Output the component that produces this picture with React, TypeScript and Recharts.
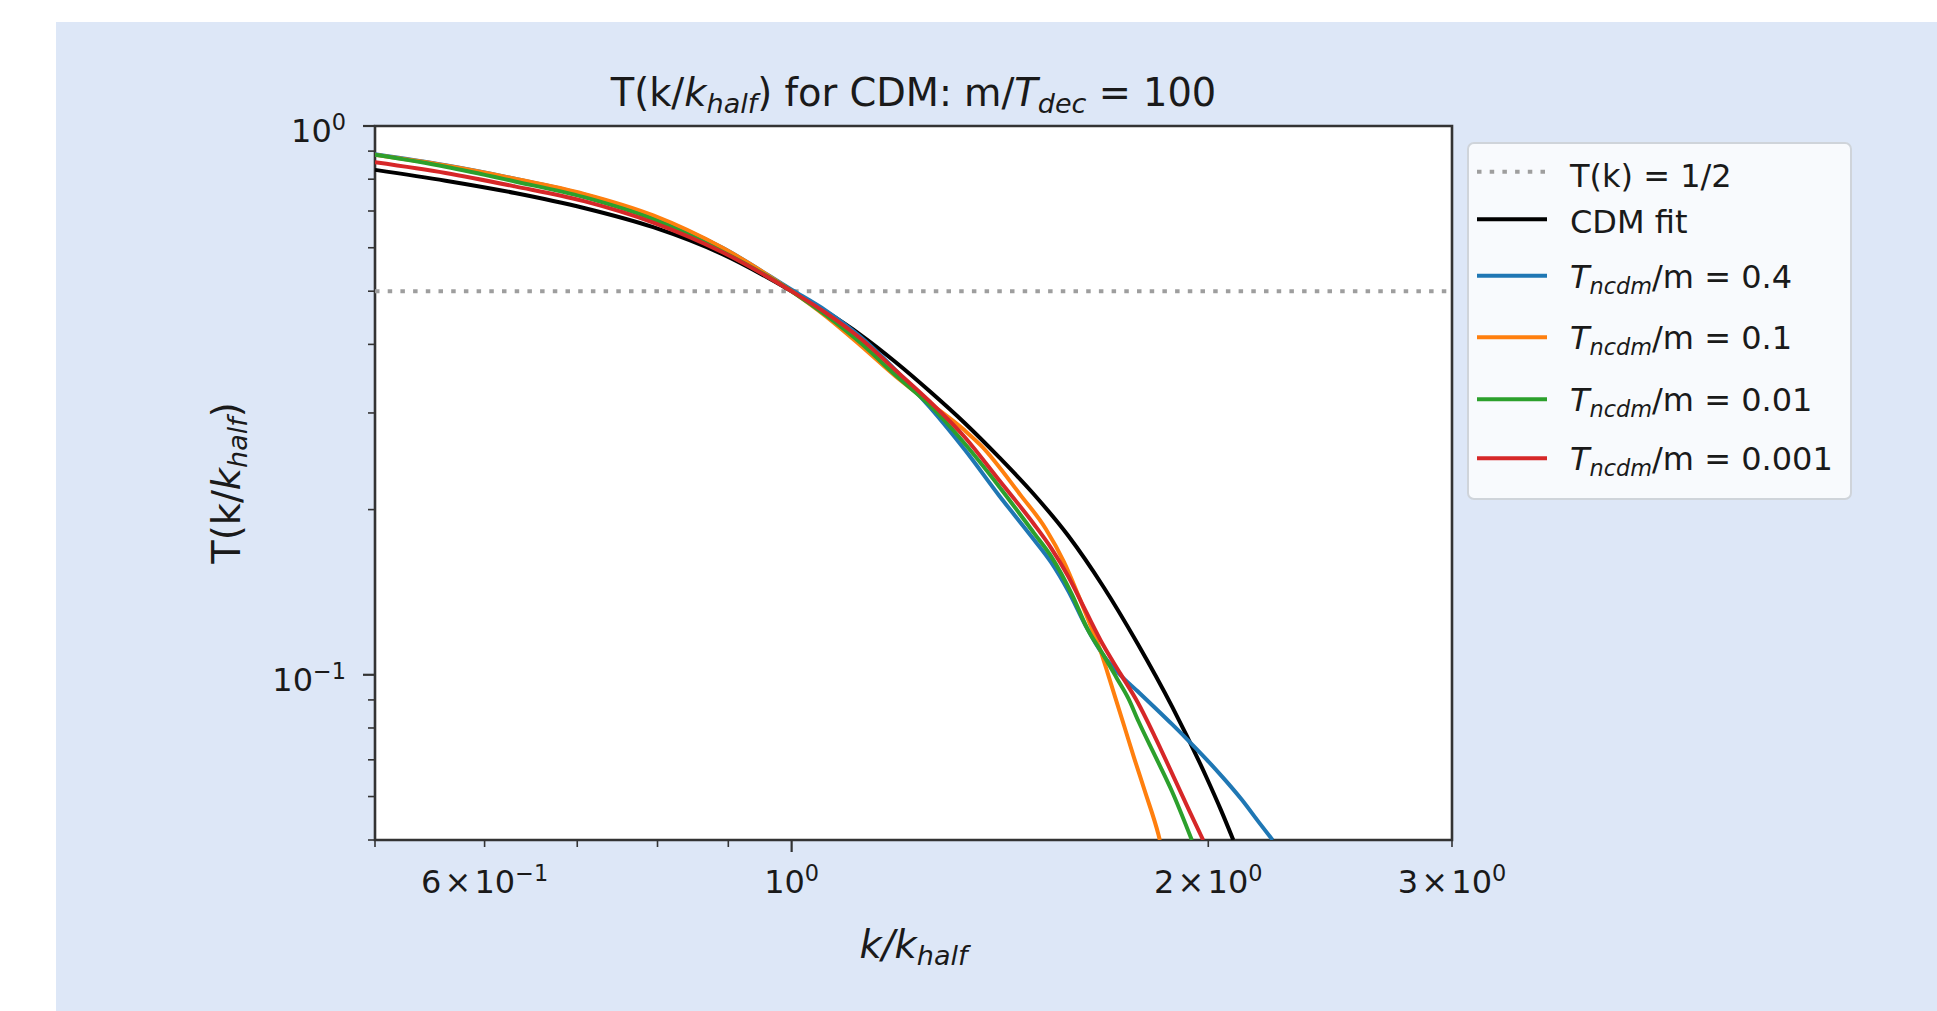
import React from "react";
import { LineChart, Line, XAxis, YAxis, ReferenceLine, ReferenceArea } from "recharts";

// k / k_half values and T(k / k_half), one pair of arrays per curve
const kCdm = [0.5, 0.5623, 0.631, 0.7079, 0.7943, 0.8913, 1.0, 1.0593, 1.122, 1.1885, 1.2589, 1.3335, 1.4125, 1.4962, 1.5849, 1.6788, 1.7783, 1.8836, 1.9953, 2.042, 2.085];
const tCdm = [0.832, 0.795, 0.755, 0.709, 0.654, 0.584, 0.5, 0.4586, 0.416, 0.3716, 0.3283, 0.2877, 0.249, 0.2133, 0.179, 0.145, 0.1139, 0.0874, 0.0648, 0.0568, 0.05];

const kT04 = [0.5, 0.5623, 0.631, 0.7079, 0.7943, 0.8913, 1.0, 1.0593, 1.122, 1.1885, 1.2589, 1.3335, 1.4125, 1.4962, 1.54, 1.5849, 1.6313, 1.6788, 1.7278, 1.7783, 1.8302, 1.8836, 1.9387, 1.9953, 2.0535, 2.1135, 2.1752, 2.226];
const tT04 = [0.888, 0.848, 0.8015, 0.7507, 0.6839, 0.5998, 0.503, 0.4605, 0.4125, 0.3592, 0.307, 0.2573, 0.212, 0.1764, 0.1602, 0.1419, 0.1227, 0.1087, 0.0999, 0.0933, 0.0871, 0.0812, 0.0755, 0.07, 0.0646, 0.0593, 0.0539, 0.05];

const kT01 = [0.5, 0.5623, 0.631, 0.7079, 0.7943, 0.8913, 1.0, 1.0593, 1.122, 1.1885, 1.2589, 1.3335, 1.37, 1.464, 1.526, 1.573, 1.611, 1.644, 1.671, 1.692, 1.708, 1.738, 1.768, 1.8, 1.841, 1.845];
const tT01 = [0.886, 0.847, 0.8017, 0.7522, 0.6871, 0.5998, 0.5, 0.4493, 0.3977, 0.35, 0.3125, 0.2789, 0.2618, 0.2123, 0.1846, 0.1606, 0.1397, 0.1231, 0.1109, 0.1006, 0.0932, 0.081, 0.0705, 0.0613, 0.0511, 0.05];

const kT001 = [0.5, 0.5623, 0.631, 0.7079, 0.7943, 0.8913, 1.0, 1.0593, 1.122, 1.1885, 1.2589, 1.3335, 1.4125, 1.4962, 1.54, 1.595, 1.635, 1.68, 1.718, 1.751, 1.781, 1.834, 1.883, 1.946];
const tT001 = [0.886, 0.843, 0.7925, 0.7418, 0.6761, 0.5902, 0.5, 0.4518, 0.4023, 0.3516, 0.3096, 0.2639, 0.2202, 0.1814, 0.1644, 0.1397, 0.1215, 0.1086, 0.0985, 0.0906, 0.0822, 0.0705, 0.0613, 0.05];

const kT0001 = [0.5, 0.5623, 0.631, 0.7079, 0.7943, 0.8913, 1.0, 1.0593, 1.122, 1.1885, 1.2589, 1.3335, 1.4125, 1.4962, 1.54, 1.5849, 1.6313, 1.6788, 1.7278, 1.7783, 1.8302, 1.8836, 1.9387, 1.983];
const tT0001 = [0.859, 0.8212, 0.7762, 0.7295, 0.6668, 0.5888, 0.5, 0.456, 0.4096, 0.359, 0.3144, 0.2712, 0.2261, 0.1883, 0.1702, 0.1509, 0.1306, 0.1134, 0.1005, 0.0891, 0.0771, 0.066, 0.0564, 0.05];

const halfLevel = 0.5;

const xTicks = [0.5, 0.6, 0.7, 0.8, 0.9, 1, 2, 3];
const xMajor = [1];
const xLabels: Record<string, [string, string]> = {
  "0.6": ["6\u200a×\u200a10", "−1"],
  "1": ["10", "0"],
  "2": ["2\u200a×\u200a10", "0"],
  "3": ["3\u200a×\u200a10", "0"],
};

const yTicks = [0.05, 0.06, 0.07, 0.08, 0.09, 0.1, 0.2, 0.3, 0.4, 0.5, 0.6, 0.7, 0.8, 0.9, 1];
const yMajor = [0.1, 1];
const yLabels: Record<string, [string, string]> = {
  "0.1": ["10", "−1"],
  "1": ["10", "0"],
};

const ncdmValues = ["0.4", "0.1", "0.01", "0.001"];

const FONT = "'DejaVu Sans', 'Liberation Sans', sans-serif";
const INK = "#1a1a1a";
const SPINE = "#333333";
const LW = 4;

const toPoints = (ks: number[], ts: number[]) => ks.map((k, i) => ({ k, T: ts[i] }));

const ncdmSeries = [
  { value: ncdmValues[0], data: toPoints(kT04, tT04), color: "#1f77b4" },
  { value: ncdmValues[1], data: toPoints(kT01, tT01), color: "#ff7f0e" },
  { value: ncdmValues[2], data: toPoints(kT001, tT001), color: "#2ca02c" },
  { value: ncdmValues[3], data: toPoints(kT0001, tT0001), color: "#d62728" },
];
const cdmData = toPoints(kCdm, tCdm);

function XTick(props: any) {
  const { x, y, payload } = props;
  const v = payload.value;
  const major = xMajor.includes(v);
  const lab = xLabels[String(v)];
  return (
    <g>
      <line x1={x} x2={x} y1={y} y2={y + (major ? 12 : 7)} stroke={SPINE} strokeWidth={major ? 2.2 : 1.6} />
      {lab && (
        <text x={x} y={y + 53} textAnchor="middle" fontFamily={FONT} fontSize={32} fill={INK}>
          <tspan>{lab[0]}</tspan>
          <tspan dy={-12} fontSize={22.4}>{lab[1]}</tspan>
        </text>
      )}
    </g>
  );
}

function YTick(props: any) {
  const { x, y, payload } = props;
  const v = payload.value;
  const major = yMajor.includes(v);
  const lab = yLabels[String(v)];
  return (
    <g>
      <line x1={x - (major ? 12 : 7)} x2={x} y1={y} y2={y} stroke={SPINE} strokeWidth={major ? 2.2 : 1.6} />
      {lab && (
        <text x={x - 29} y={y + 16} textAnchor="end" fontFamily={FONT} fontSize={32} fill={INK}>
          <tspan>{lab[0]}</tspan>
          <tspan dy={-12} fontSize={22.4}>{lab[1]}</tspan>
        </text>
      )}
    </g>
  );
}

function Overlay() {
  const sub = { fontStyle: "italic" as const, fontSize: 22.4 };
  const bigSub = { fontStyle: "italic" as const, fontSize: 27 };
  const rowLines = [275.7, 337.3, 399.3, 458.3];
  return (
    <svg width={1937} height={1011} style={{ position: "absolute", left: 0, top: 0, pointerEvents: "none" }}>
      <g fontFamily={FONT} fill={INK} style={{ whiteSpace: "pre" }}>
        {/* title */}
        <text x={913.5} y={106} textAnchor="middle" fontSize={38.4}>
          <tspan>T(k/</tspan>
          <tspan fontStyle="italic">k</tspan>
          <tspan {...bigSub} dy={7}>half</tspan>
          <tspan dy={-7}>) for CDM: m/</tspan>
          <tspan fontStyle="italic">T</tspan>
          <tspan {...bigSub} dy={7}>dec</tspan>
          <tspan dy={-7}> = 100</tspan>
        </text>
        {/* x label */}
        <text x={913.5} y={958} textAnchor="middle" fontSize={38.4}>
          <tspan fontStyle="italic">k/k</tspan>
          <tspan {...bigSub} dy={7}>half</tspan>
        </text>
        {/* y label */}
        <text x={240} y={483} textAnchor="middle" fontSize={38.4} transform="rotate(-90 240 483)">
          <tspan>T(k/</tspan>
          <tspan fontStyle="italic">k</tspan>
          <tspan {...bigSub} dy={7}>half</tspan>
          <tspan dy={-7}>)</tspan>
        </text>

        {/* legend */}
        <rect x={1468} y={143} width={383} height={356} rx={6} fill="#f8fafd" stroke="#cfd4da" strokeWidth={2} />
        <line x1={1477} x2={1547} y1={171.7} y2={171.7} stroke="#9e9e9e" strokeWidth={LW} strokeDasharray="4.5 8.2" />
        <text x={1570} y={186.5} fontSize={32}>T(k) = 1/2</text>
        <line x1={1477} x2={1547} y1={219.3} y2={219.3} stroke="#000" strokeWidth={LW} />
        <text x={1570} y={232.7} fontSize={32}>CDM fit</text>
        {ncdmSeries.map((s, i) => (
          <g key={s.value}>
            <line x1={1477} x2={1547} y1={rowLines[i]} y2={rowLines[i]} stroke={s.color} strokeWidth={LW} />
            <text x={1570} y={rowLines[i] + 12} fontSize={32}>
              <tspan fontStyle="italic">T</tspan>
              <tspan {...sub} dy={6}>ncdm</tspan>
              <tspan dy={-6}>/m = {s.value}</tspan>
            </text>
          </g>
        ))}
      </g>
    </svg>
  );
}

export default function App() {
  return (
    <div style={{ position: "relative", width: 1937, height: 1011, overflow: "hidden", background: "#ffffff" }}>
      <style>{"body{margin:0;overflow:hidden}"}</style>
      <div style={{ position: "absolute", left: 56, top: 22, width: 1881, height: 989, background: "#dde7f7" }} />
      <div style={{ position: "absolute", left: 0, top: 0 }}>
        <LineChart width={1937} height={1011} margin={{ top: 126, right: 485, bottom: 111, left: 275 }}>
          <XAxis
            type="number"
            dataKey="k"
            scale="log"
            domain={[0.5, 3]}
            allowDataOverflow
            ticks={xTicks}
            interval={0}
            height={60}
            tickSize={0}
            tickMargin={0}
            tickLine={false}
            axisLine={false}
            tick={XTick}
          />
          <YAxis
            type="number"
            dataKey="T"
            scale="log"
            domain={[0.05, 1]}
            allowDataOverflow
            ticks={yTicks}
            interval={0}
            width={100}
            tickSize={0}
            tickMargin={0}
            tickLine={false}
            axisLine={false}
            tick={YTick}
          />
          <ReferenceArea x1={0.5} x2={3} y1={0.05} y2={1} fill="#ffffff" fillOpacity={1} stroke="none" ifOverflow="visible" />
          <ReferenceLine y={halfLevel} stroke="#9e9e9e" strokeWidth={LW} strokeDasharray="4.5 8.2" />
          <Line data={cdmData} dataKey="T" type="monotone" stroke="#000000" strokeWidth={LW} dot={false} isAnimationActive={false} />
          {ncdmSeries.map((s) => (
            <Line
              key={s.value}
              data={s.data}
              dataKey="T"
              type="monotone"
              stroke={s.color}
              strokeWidth={LW}
              dot={false}
              isAnimationActive={false}
            />
          ))}
          <ReferenceArea x1={0.5} x2={3} y1={0.05} y2={1} fill="none" stroke={SPINE} strokeWidth={2.6} ifOverflow="visible" />
        </LineChart>
      </div>
      <Overlay />
    </div>
  );
}
